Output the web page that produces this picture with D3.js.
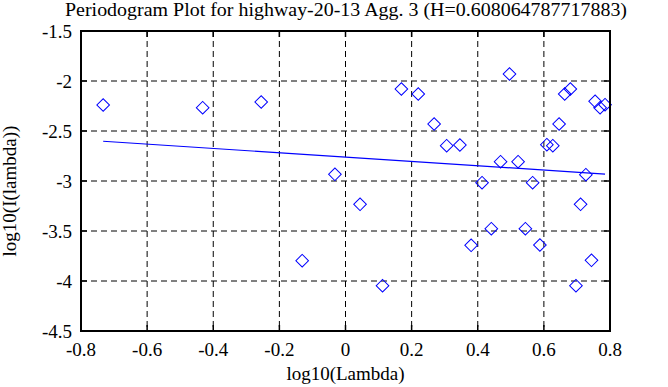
<!DOCTYPE html>
<html>
<head>
<meta charset="utf-8">
<script src="https://cdn.jsdelivr.net/npm/d3@7"></script>
<style>
  body { margin: 0; background: #fff; }
  text { font-family: "Times New Roman", Times, "Liberation Serif", serif; fill: #000; }
</style>
</head>
<body>
<div id="chart"></div>
<script>
// periodogram points (log10 lambda, log10 I(lambda))
var logLambda = [-0.733, -0.432, -0.255, -0.131, -0.032, 0.044, 0.112, 0.169, 0.220, 0.268,
                 0.306, 0.346, 0.380, 0.413, 0.441, 0.469, 0.496, 0.522, 0.544, 0.566,
                 0.588, 0.609, 0.627, 0.646, 0.663, 0.680, 0.697, 0.711, 0.727, 0.744,
                 0.755, 0.770, 0.785];
var logI = [-2.24, -2.267, -2.21, -3.797, -2.933, -3.233, -4.047, -2.08, -2.13, -2.43,
            -2.647, -2.64, -3.643, -3.017, -3.477, -2.807, -1.93, -2.807, -3.477, -3.017,
            -3.64, -2.637, -2.647, -2.43, -2.13, -2.08, -4.047, -3.233, -2.937, -3.793,
            -2.203, -2.267, -2.237];
var H = 0.608064787717883;
var fitSlope = 1 - 2 * H;
var fitIntercept = -2.761;
var xTicks = [-0.8, -0.6, -0.4, -0.2, 0, 0.2, 0.4, 0.6, 0.8];
var yTicks = [-1.5, -2, -2.5, -3, -3.5, -4, -4.5];

var width = 668, height = 387;
var margin = {top: 31, right: 58, bottom: 56, left: 81};

var svg = d3.select("#chart").append("svg")
    .attr("width", width)
    .attr("height", height);

var x = d3.scaleLinear().domain([-0.8, 0.8]).range([margin.left, width - margin.right]);
var y = d3.scaleLinear().domain([-4.5, -1.5]).range([height - margin.bottom, margin.top]);

// dashed grid
var grid = svg.append("g");
grid.selectAll("line.gx")
    .data(xTicks.slice(1, -1))
    .enter().append("line")
    .attr("x1", function(d) { return x(d); })
    .attr("x2", function(d) { return x(d); })
    .attr("y1", y.range()[1])
    .attr("y2", y.range()[0])
    .attr("stroke", "#000")
    .attr("stroke-dasharray", "6,4");
grid.selectAll("line.gy")
    .data(yTicks.slice(1, -1))
    .enter().append("line")
    .attr("y1", function(d) { return y(d); })
    .attr("y2", function(d) { return y(d); })
    .attr("x1", x.range()[0])
    .attr("x2", x.range()[1])
    .attr("stroke", "#000")
    .attr("stroke-dasharray", "6,4");

// inward ticks on all four sides
var tl = 6;
var ticks = svg.append("g").attr("stroke", "#000").attr("stroke-width", 1.5);
xTicks.forEach(function(d) {
  ticks.append("line").attr("x1", x(d)).attr("x2", x(d)).attr("y1", y(-4.5)).attr("y2", y(-4.5) - tl);
  ticks.append("line").attr("x1", x(d)).attr("x2", x(d)).attr("y1", y(-1.5)).attr("y2", y(-1.5) + tl);
});
yTicks.forEach(function(d) {
  ticks.append("line").attr("y1", y(d)).attr("y2", y(d)).attr("x1", x(-0.8)).attr("x2", x(-0.8) + tl);
  ticks.append("line").attr("y1", y(d)).attr("y2", y(d)).attr("x1", x(0.8)).attr("x2", x(0.8) - tl);
});

// tick labels
svg.append("g").selectAll("text")
    .data(xTicks)
    .enter().append("text")
    .attr("x", function(d) { return x(d); })
    .attr("y", y(-4.5) + 25)
    .attr("text-anchor", "middle")
    .style("font-size", "19px")
    .text(function(d) { return d; });
svg.append("g").selectAll("text")
    .data(yTicks)
    .enter().append("text")
    .attr("x", x(-0.8) - 9)
    .attr("y", function(d) { return y(d) + 6.5; })
    .attr("text-anchor", "end")
    .style("font-size", "19px")
    .text(function(d) { return d; });

// fitted line
var xs = d3.extent(logLambda);
svg.append("line")
    .attr("x1", x(xs[0])).attr("y1", y(fitIntercept + fitSlope * xs[0]))
    .attr("x2", x(xs[1])).attr("y2", y(fitIntercept + fitSlope * xs[1]))
    .attr("stroke", "#0000ff")
    .attr("stroke-width", 1.2);

// diamonds
var diamond = d3.symbol().type(d3.symbolSquare).size(80);
svg.append("g").selectAll("path")
    .data(logLambda)
    .enter().append("path")
    .attr("d", diamond)
    .attr("transform", function(d, i) { return "translate(" + x(d) + "," + y(logI[i]) + ") rotate(45)"; })
    .attr("fill", "none")
    .attr("stroke", "#0000ff")
    .attr("stroke-width", 1);

// frame
svg.append("rect")
    .attr("x", x(-0.8)).attr("y", y(-1.5))
    .attr("width", x(0.8) - x(-0.8)).attr("height", y(-4.5) - y(-1.5))
    .attr("fill", "none")
    .attr("stroke", "#000")
    .attr("stroke-width", 2);

// titles
svg.append("text")
    .attr("x", 346)
    .attr("y", 16)
    .attr("text-anchor", "middle")
    .attr("textLength", 562)
    .attr("lengthAdjust", "spacingAndGlyphs")
    .style("font-size", "19px")
    .text("Periodogram Plot for highway-20-13 Agg. 3 (H=" + H + ")");
svg.append("text")
    .attr("x", x(0))
    .attr("y", 380)
    .attr("text-anchor", "middle")
    .style("font-size", "19px")
    .text("log10(Lambda)");
svg.append("text")
    .attr("transform", "translate(16,191) rotate(-90)")
    .attr("text-anchor", "middle")
    .style("font-size", "19px")
    .text("log10(I(lambda))");
</script>
</body>
</html>
